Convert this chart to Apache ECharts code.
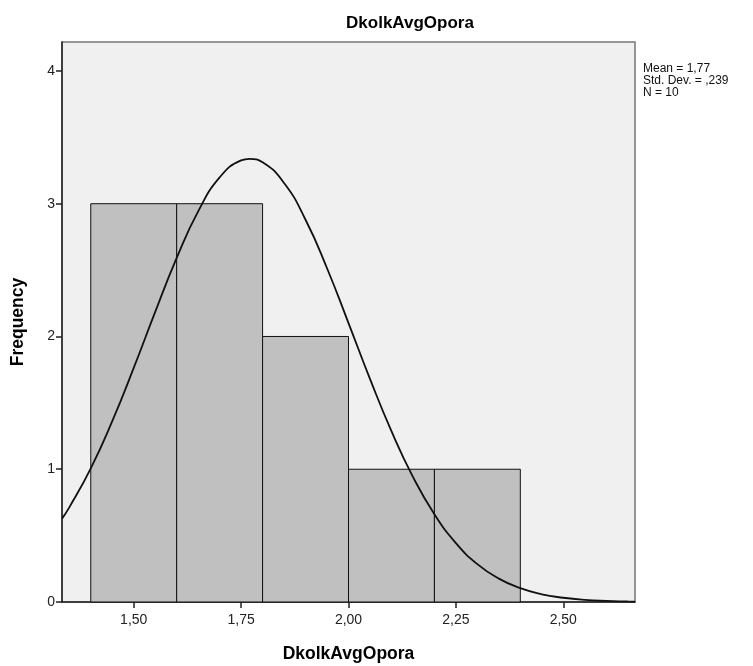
<!DOCTYPE html>
<html><head><meta charset="utf-8">
<script src="https://cdn.jsdelivr.net/npm/echarts@6/dist/echarts.min.js"></script>
<style>html,body{margin:0;padding:0;background:#fff}#c{width:753px;height:666px}</style>
</head><body><div id="c"></div>
<script>
// Histogram bins (lower edge), bin width and counts
const binStarts = [1.4, 1.6, 1.8, 2.0, 2.2];
const binWidth = 0.2;
const counts = [3, 3, 2, 1, 1];
// Normal curve, values
const curveX = [1.333,1.35,1.40,1.45,1.50,1.55,1.60,1.65,1.70,1.75,1.77,1.80,1.85,1.90,1.95,2.00,2.05,2.10,2.15,2.20,2.25,2.30,2.35,2.40,2.45,2.50,2.55,2.60,2.65,2.667];
const curveY = [0.628,0.713,1.007,1.362,1.763,2.185,2.592,2.942,3.198,3.326,3.338,3.312,3.156,2.879,2.514,2.101,1.681,1.287,0.943,0.661,0.444,0.285,0.176,0.104,0.058,0.032,0.016,0.008,0.004,0.003];
const xTicks = [1.5, 1.75, 2.0, 2.25, 2.5];
const yTicks = [0, 1, 2, 3, 4];
const statsLines = ['Mean = 1,77', 'Std. Dev. = ,239', 'N = 10'];
const varName = 'DkolkAvgOpora';

const chart = echarts.init(document.getElementById('c'));
const font = 'Liberation Sans, Arial, sans-serif';
chart.setOption({
  animation: false,
  title: {
    text: varName, left: 405, top: 10, textAlign: 'center',
    textStyle: {fontFamily: font, fontWeight: 'bold', fontSize: 17, color: '#000'}
  },
  grid: {
    left: 62, right: 118, top: 42, bottom: 64, show: true,
    outerBoundsMode: 'none', containLabel: false,
    backgroundColor: '#f0f0f0', borderColor: '#777', borderWidth: 1.5
  },
  xAxis: {
    type: 'value', min: 1.333, max: 2.667,
    name: varName, nameLocation: 'middle', nameGap: 43,
    nameTextStyle: {fontFamily: font, fontWeight: 'bold', fontSize: 17.5, color: '#000'},
    axisLine: {show: true, onZero: false, lineStyle: {color: '#222', width: 1.5}},
    axisTick: {show: true, length: 6, customValues: xTicks, lineStyle: {color: '#222', width: 1.5}},
    axisLabel: {customValues: xTicks, margin: 11, fontFamily: font, fontSize: 14, color: '#222',
      formatter: v => v.toFixed(2).replace('.', ',')},
    splitLine: {show: false}
  },
  yAxis: {
    type: 'value', min: 0, max: 4.218,
    name: 'Frequency', nameLocation: 'middle', nameGap: 35, nameRotate: 90,
    nameTextStyle: {fontFamily: font, fontWeight: 'bold', fontSize: 17.5, color: '#000'},
    axisLine: {show: true, lineStyle: {color: '#222', width: 1.5}},
    axisTick: {show: true, length: 6, customValues: yTicks, lineStyle: {color: '#222', width: 1.5}},
    axisLabel: {customValues: yTicks, margin: 7, fontFamily: font, fontSize: 14, color: '#222'},
    splitLine: {show: false}
  },
  graphic: [{
    type: 'text', left: 643, top: 63,
    style: {text: statsLines.join('\n'), fontFamily: font, fontSize: 12, lineHeight: 12, fill: '#111'}
  }],
  series: [{
    type: 'custom',
    data: binStarts.map((s, i) => [s, s + binWidth, counts[i]]),
    renderItem: (params, api) => {
      const p0 = api.coord([api.value(0), api.value(2)]);
      const p1 = api.coord([api.value(1), 0]);
      return {type: 'rect', shape: {x: p0[0], y: p0[1], width: p1[0] - p0[0], height: p1[1] - p0[1]},
        style: {fill: '#c0c0c0', stroke: '#111', lineWidth: 1}};
    },
    z: 2
  }, {
    type: 'line', data: curveX.map((x, i) => [x, curveY[i]]),
    smooth: true, showSymbol: false, clip: true,
    lineStyle: {color: '#111', width: 1.8}, z: 3
  }]
});
</script></body></html>
